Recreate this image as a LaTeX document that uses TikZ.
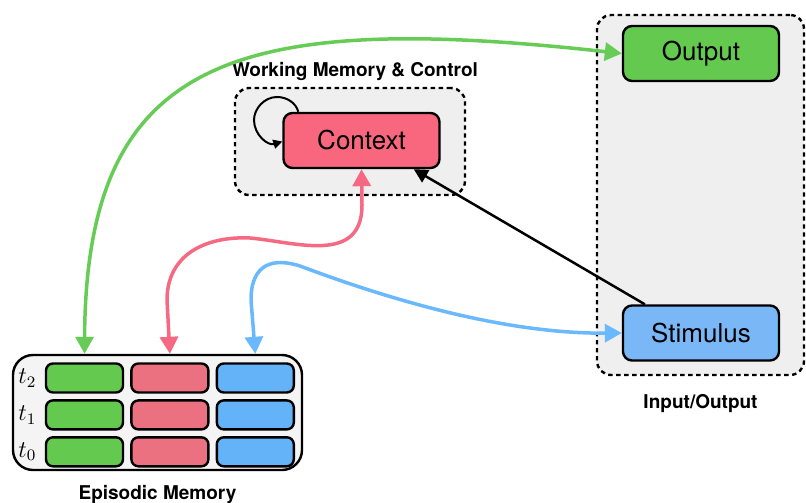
\documentclass[tikz,border=0pt]{standalone}
\usepackage[no-math]{fontspec}
\setmainfont{TeX Gyre Heros}
\usepackage{tikz}
\usetikzlibrary{arrows.meta,positioning,backgrounds}
\definecolor{memgreen}{HTML}{64C94F}
\definecolor{ctxpink}{HTML}{F9677F}
\definecolor{cellpink}{HTML}{EB7080}
\definecolor{stimblue}{HTML}{7AB7F7}
\definecolor{cellblue}{HTML}{64B3F9}
\definecolor{linkgreen}{HTML}{66CC55}
\definecolor{linkpink}{HTML}{F56A82}
\definecolor{linkblue}{HTML}{6AB8FE}
\definecolor{groupgray}{HTML}{EFEFEF}
\definecolor{storegray}{HTML}{F4F4F4}

\begin{document}
\begin{tikzpicture}[
  x=0.5pt, y=-0.5pt,
  every node/.style={font=\fontsize{13}{15}\selectfont},
  unit/.style={rectangle, rounded corners=4.5pt, draw, line width=1.2pt,
               minimum width=78pt, minimum height=27.5pt, inner sep=0pt},
  cell/.style={rectangle, rounded corners=3.5pt, draw, line width=1.2pt,
               minimum width=38.5pt, minimum height=14.5pt, inner sep=0pt},
  group/.style={rectangle, rounded corners=7pt, draw, line width=1.2pt,
                dash pattern=on 2.2pt off 1.8pt, fill=groupgray, inner sep=0pt},
  grouplabel/.style={font=\bfseries\fontsize{9.5}{11}\selectfont, inner sep=0pt},
  tlabel/.style={font=\fontsize{12}{14}\selectfont, inner sep=0pt},
  link/.style={{Triangle[length=8.5pt,width=9pt]}-{Triangle[length=8.5pt,width=9pt]}, line width=1.75pt},
  ctrl/.style={-{Triangle[length=7pt,width=7pt]}, line width=1.25pt},
  selfloop/.style={-{Triangle[length=4.5pt,width=4.5pt]}, line width=1pt}
]
\useasboundingbox (0,0) rectangle (806,502);

% ---- Groups ----
\node[group, minimum width=103.5pt, minimum height=180pt] (io) at (700.5,195) {};
\node[group, minimum width=115pt, minimum height=53.5pt] (wm) at (350,141.5) {};
\node[rectangle, rounded corners=10pt, draw, line width=1.2pt, fill=storegray,
      minimum width=144.5pt, minimum height=57.5pt] (epi) at (157.5,412.5) {};

% ---- Units ----
\node[unit, fill=memgreen] (out) at (701,53.5) {Output};
\node[unit, fill=stimblue] (stim) at (701,333) {Stimulus};
\node[unit, fill=ctxpink] (ctx) at (361.5,140.5) {Context};

% ---- Episodic store ----
\node[cell, fill=memgreen] (g2) at (84.5,378) {};
\node[cell, fill=cellpink, right=3pt of g2] (p2) {};
\node[cell, fill=cellblue, right=3pt of p2] (b2) {};
\node[cell, fill=memgreen, below=2.75pt of g2] (g1) {};
\node[cell, fill=cellpink, right=3pt of g1] (p1) {};
\node[cell, fill=cellblue, right=3pt of p1] (b1) {};
\node[cell, fill=memgreen, below=2.75pt of g1] (g0) {};
\node[cell, fill=cellpink, right=3pt of g0] (p0) {};
\node[cell, fill=cellblue, right=3pt of p0] (b0) {};
\node[tlabel, left=4pt of g2] (t2) {$t_2$};
\node[tlabel, left=4pt of g1] (t1) {$t_1$};
\node[tlabel, left=4pt of g0] (t0) {$t_0$};

% ---- Group labels ----
\node[grouplabel, above=3pt of wm, xshift=2.5pt] (wmlabel) {Working Memory \& Control};
\node[grouplabel, below=9pt of io] (iolabel) {Input/Output};
\node[grouplabel, below=7pt of epi] (epilabel) {Episodic Memory};

% ---- Connections ----
\draw[link, linkgreen] (g2 |- epi.north) .. controls (86,60) and (230,10) .. (out.west);
\draw[link, linkpink] (p2 |- epi.north) -- (167,300)
  .. controls (167,255) and (205,236) .. (250,238)
  .. controls (295,242) and (362,265) .. (362,205) -- (ctx.south);
\draw[link, linkblue] (b2 |- epi.north) -- (251,300)
  .. controls (251,262) and (275,258) .. (300,266)
  .. controls (380,296) and (500,334) .. (stim.west);
\draw[ctrl] ([xshift=11.5pt]stim.north west) -- ([xshift=-13.5pt]ctx.south east);
% self loop on the context unit
\draw[selfloop] ([xshift=8pt]ctx.north west) .. controls (296,103) and (287,97) .. (277,97)
  .. controls (264,97) and (254,109) .. (254,120)
  .. controls (254,135) and (268,146) .. ([yshift=-0.5pt]ctx.west);

\end{tikzpicture}
\end{document}
